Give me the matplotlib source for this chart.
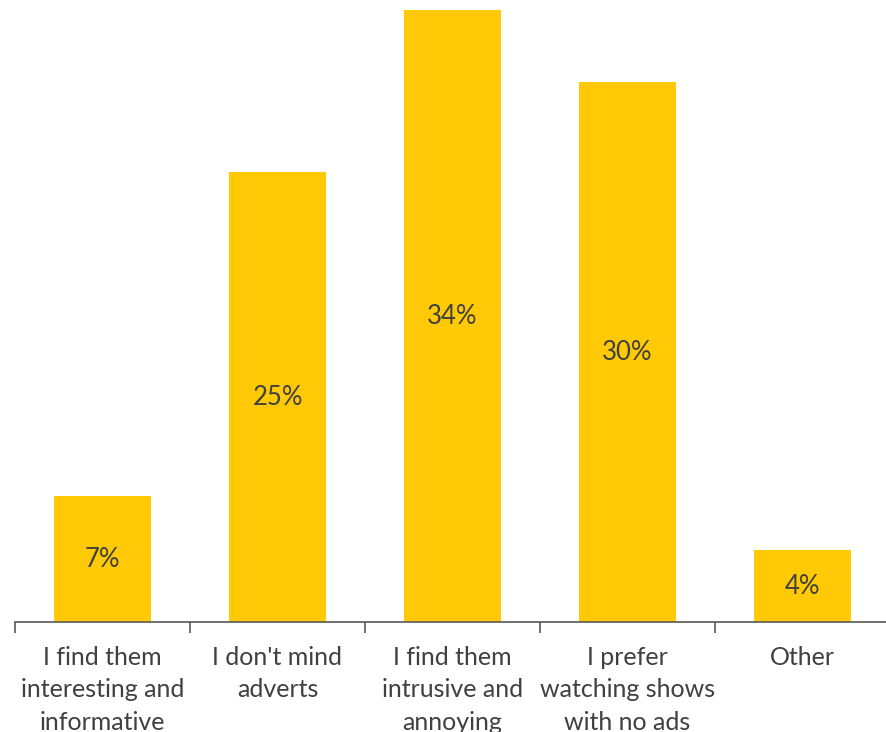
import matplotlib
matplotlib.use("Agg")
import matplotlib.pyplot as plt

categories = [
    "I find them\ninteresting and\ninformative",
    "I don't mind\nadverts",
    "I find them\nintrusive and\nannoying",
    "I prefer\nwatching shows\nwith no ads",
    "Other",
]
values = [7, 25, 34, 30, 4]
labels = ["%d%%" % v for v in values]

plt.rcParams["font.family"] = ["Lato", "DejaVu Sans"]

fig = plt.figure(figsize=(8.87, 7.32), dpi=100)
ax = fig.add_axes([15 / 887, 110 / 732, 875 / 887, 622 / 732])

x = range(len(values))
bars = ax.bar(x, values, width=0.55, color="#FFC906")

for b, lab in zip(bars, labels):
    ax.text(b.get_x() + b.get_width() / 2, b.get_height() / 2, lab,
            ha="center", va="center", fontsize=18.5, color="#404040")

ax.set_xlim(-0.5, len(values) - 0.5)
ax.set_ylim(0, 34.56)
ax.set_yticks([])

# ticks sit between categories, labels under the centres
ax.set_xticks([i - 0.5 for i in range(len(values) + 1)])
ax.set_xticklabels([])
ax.set_xticks(list(x), minor=True)
ax.set_xticklabels(categories, minor=True, fontsize=18, color="#404040",
                   linespacing=1.48)
ax.tick_params(axis="x", which="major", length=8, width=1.2, color="#595959")
ax.tick_params(axis="x", which="minor", length=0, pad=17.5)
for lab in ax.get_xticklabels(minor=True):
    lab.set_verticalalignment("top")

for s in ["top", "right", "left"]:
    ax.spines[s].set_visible(False)
ax.spines["bottom"].set_color("#595959")
ax.spines["bottom"].set_linewidth(1.2)

fig.savefig("out.png", dpi=100)
